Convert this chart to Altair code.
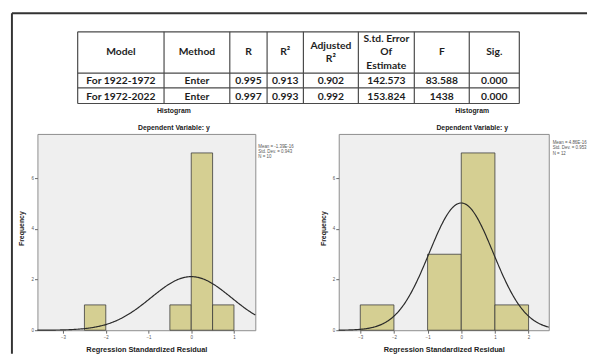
import altair as alt
import pandas as pd

# ---------------- data ----------------
headers = ["Model", "Method", "R", "R²", "Adjusted\nR²", "S.td. Error\nOf\nEstimate", "F", "Sig."]
row_1922 = ["For 1922-1972", "Enter", "0.995", "0.913", "0.902", "142.573", "83.588", "0.000"]
row_1972 = ["For 1972-2022", "Enter", "0.997", "0.993", "0.992", "153.824", "1438", "0.000"]

h1_bin_start = [-2.5, -0.5, 0.0, 0.5]
h1_bin_end = [-2.0, 0.0, 0.5, 1.0]
h1_count = [1, 1, 7, 1]
h1_mean, h1_sd, h1_n, h1_binw = -1.39e-16, 0.943, 10, 0.5
h1_legend = ["Mean = -1.39E-16", "Std. Dev. = 0.943", "N = 10"]
h1_xticks = [-3, -2, -1, 0, 1]
h1_xdomain = [-3.6, 1.5]

h2_bin_start = [-3.0, -1.0, 0.0, 1.0]
h2_bin_end = [-2.0, 0.0, 1.0, 2.0]
h2_count = [1, 3, 7, 1]
h2_mean, h2_sd, h2_n, h2_binw = 4.86e-16, 0.953, 12, 1.0
h2_legend = ["Mean = 4.86E-16", "Std. Dev. = 0.953", "N = 12"]
h2_xticks = [-3, -2, -1, 0, 1, 2]
h2_xdomain = [-3.64, 2.6]

y_ticks = [0, 2, 4, 6]
y_domain = [0, 7.75]

# ---------------- layout (pixels) ----------------
TABLE_W, TABLE_H = 521, 123
col_edges = [41, 129, 196, 234, 271, 327, 384, 440, 491]
row_edges = [19, 61, 76, 92]
LINE_H = 14
FONT = "Liberation Sans"
TFONT = "Lato"

# ---------------- table chart ----------------
cells = []
for r, row in enumerate([headers, row_1922, row_1972]):
    for c, txt in enumerate(row):
        nlines = txt.count("\n") + 1
        cy = (row_edges[r] + row_edges[r + 1]) / 2 + (1 if r > 0 else 0)
        cells.append({
            "x": (col_edges[c] + col_edges[c + 1]) / 2,
            "y": cy - (nlines - 1) * LINE_H / 2,
            "t": txt,
        })
cells_df = pd.DataFrame(cells)

lines = []
for e in row_edges:
    lines.append({"x": col_edges[0], "x2": col_edges[-1], "y": e, "y2": e})
for e in col_edges:
    lines.append({"x": e, "x2": e, "y": row_edges[0], "y2": row_edges[-1]})
lines_df = pd.DataFrame(lines)

frame_df = pd.DataFrame([
    {"x": -26, "x2": 560, "y": 0, "y2": 0},
    {"x": -26, "x2": -26, "y": 0, "y2": 347},
])

xs = alt.Scale(domain=[0, TABLE_W], range=[0, TABLE_W], nice=False, zero=False)
ys = alt.Scale(domain=[0, TABLE_H], range=[0, TABLE_H], nice=False, zero=False)

tbl_lines = alt.Chart(lines_df).mark_rule(color="#4a4a4a", strokeWidth=1.2).encode(
    x=alt.X("x:Q", scale=xs, axis=None),
    x2="x2:Q",
    y=alt.Y("y:Q", scale=ys, axis=None),
    y2="y2:Q",
)
frame = alt.Chart(frame_df).mark_rule(color="#333333", strokeWidth=2).encode(
    x=alt.X("x:Q", scale=xs, axis=None),
    x2="x2:Q",
    y=alt.Y("y:Q", scale=ys, axis=None),
    y2="y2:Q",
)
tbl_text = alt.Chart(cells_df).mark_text(
    font=TFONT, fontSize=10.5, fontWeight="bold", color="#1e1e1e",
    lineBreak="\n", lineHeight=LINE_H, align="center", baseline="middle",
).encode(
    x=alt.X("x:Q", scale=xs, axis=None),
    y=alt.Y("y:Q", scale=ys, axis=None),
    text="t:N",
)
table = alt.layer(frame, tbl_lines, tbl_text).properties(
    width=TABLE_W, height=TABLE_H,
    view=alt.ViewBackground(stroke="transparent"),
)


# ---------------- histograms ----------------
def histogram(starts, ends, counts, mean, sd, n, binw, legend, xticks, xdomain,
              width, ytitle_x, dx, legend_x, legend_y):
    bars_df = pd.DataFrame({"start": starts, "end": ends, "count": counts})
    xsc = alt.Scale(domain=xdomain, nice=False, zero=False)
    ysc = alt.Scale(domain=y_domain, nice=False, zero=False)
    xaxis = alt.Axis(
        values=xticks, grid=False, domain=False, tickSize=3, tickColor="#666666",
        labelFontSize=4.5, labelColor="#555555", labelPadding=1, labelFont=FONT,
        title="Regression Standardized Residual", titleFont=FONT, titleFontSize=7.5,
        titleFontWeight="bold", titleColor="#222222", titleX=width / 2, titleY=20,
        titleBaseline="middle", titleAlign="center",
    )
    yaxis = alt.Axis(
        values=y_ticks, grid=False, domain=False, tickSize=3, tickColor="#666666",
        labelFontSize=4.5, labelColor="#555555", labelPadding=1, labelFont=FONT,
        title="Frequency", titleFont=FONT, titleFontSize=7, titleFontWeight="bold",
        titleColor="#222222", titleX=ytitle_x, titleY=96, titleAngle=270,
        titleBaseline="middle", titleAlign="center",
    )
    bars = alt.Chart(bars_df).mark_rect(
        fill="#d5cf92", stroke="#3a3a3a", strokeWidth=0.8
    ).encode(
        x=alt.X("start:Q", scale=xsc, axis=xaxis),
        x2="end:Q",
        y=alt.Y("count:Q", scale=ysc, axis=yaxis),
        y2=alt.datum(0),
    )
    curve = alt.Chart(alt.sequence(xdomain[0], xdomain[1] + 0.001, 0.02, as_="x")).transform_calculate(
        f=f"{n}*{binw}*exp(-0.5*pow((datum.x-({mean}))/{sd},2))/({sd}*sqrt(2*PI))"
    ).mark_line(color="#2a2a2a", strokeWidth=1.2).encode(
        x=alt.X("x:Q", scale=xsc),
        y=alt.Y("f:Q", scale=ysc),
    )
    leg = alt.Chart(pd.DataFrame({"t": ["\n".join(legend)]})).mark_text(
        font=FONT, fontSize=4.5, color="#555555", align="left", baseline="top",
        lineBreak="\n", lineHeight=5.5,
    ).encode(x=alt.value(legend_x), y=alt.value(legend_y), text="t:N")
    return alt.layer(bars, curve, leg).properties(
        width=width, height=200,
        title=alt.TitleParams(
            text="Histogram", subtitle="Dependent Variable: y",
            font=FONT, subtitleFont=FONT, fontSize=7, subtitleFontSize=7,
            fontWeight="bold", subtitleFontWeight="bold",
            color="#222222", subtitleColor="#222222",
            anchor="middle", frame="group", dx=dx, offset=3, subtitlePadding=10,
        ),
        view=alt.ViewBackground(fill="#efefef", stroke="#8c8c8c", strokeWidth=1),
    )


h1 = histogram(h1_bin_start, h1_bin_end, h1_count, h1_mean, h1_sd, h1_n, h1_binw,
               h1_legend, h1_xticks, h1_xdomain, 222, -16, 28, 225, 10)
h2 = histogram(h2_bin_start, h2_bin_end, h2_count, h2_mean, h2_sd, h2_n, h2_binw,
               h2_legend, h2_xticks, h2_xdomain, 214, -15, 29, 218, 6)

hist_row = alt.hconcat(h1, h2, spacing=85, bounds="flush")
chart = alt.vconcat(table, hist_row, spacing=0, bounds="flush").properties(
    padding={"left": 2, "top": 0, "right": 0, "bottom": 0},
    background="white",
).configure_view(stroke="transparent")

chart.save("out.html", embed_options={"renderer": "svg", "actions": False})
